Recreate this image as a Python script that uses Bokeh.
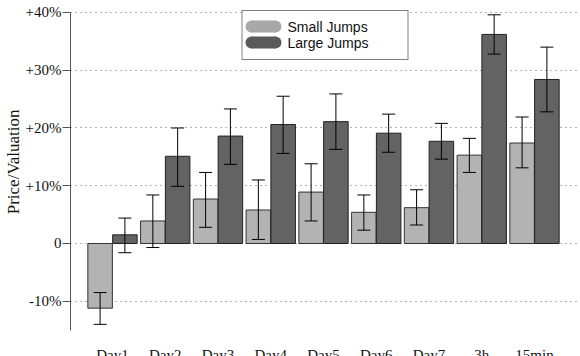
from bokeh.plotting import figure
from bokeh.models import (ColumnDataSource, Range1d, FixedTicker, Whisker, TeeHead,
                          Legend, LegendItem)
from bokeh.core.properties import value
from bokeh.embed import file_html
from bokeh.resources import INLINE

# ---------------- data ----------------
categories = ["Day1", "Day2", "Day3", "Day4", "Day5", "Day6", "Day7", "3h", "15min"]
small = [-11.2, 3.9, 7.7, 5.8, 8.9, 5.4, 6.2, 15.3, 17.4]
small_lo = [-14.0, -0.7, 2.8, 0.7, 3.9, 2.3, 3.2, 12.3, 13.1]
small_hi = [-8.5, 8.4, 12.3, 11.0, 13.8, 8.4, 9.3, 18.2, 21.9]
large = [1.5, 15.1, 18.6, 20.6, 21.1, 19.1, 17.7, 36.2, 28.4]
large_lo = [-1.6, 9.9, 13.7, 15.6, 16.3, 15.8, 14.6, 32.8, 22.8]
large_hi = [4.4, 20.0, 23.3, 25.5, 25.9, 22.4, 20.8, 39.6, 34.0]
y_ticks = [-10, 0, 10, 20, 30, 40]
y_tick_labels = ["-10%", "0", "+10%", "+20%", "+30%", "+40%"]
series_names = ["Small Jumps", "Large Jumps"]

# ---------------- layout constants ----------------
OFF = 0.235
BW = 0.465
SMALL_COLOR = "#b3b3b3"
LARGE_COLOR = "#636363"
KEY_COLORS = ["#a8a8a8", "#5a5a5a"]
NAN = float("nan")

pos = [i + 1 for i in range(len(categories))]
src = ColumnDataSource(dict(
    x=pos,
    xs=[v - OFF for v in pos],
    xl=[v + OFF for v in pos],
    cat=categories,
    small=small, small_lo=small_lo, small_hi=small_hi,
    large=large, large_lo=large_lo, large_hi=large_hi,
    ylab=[-18.0] * len(pos),
))

p = figure(width=580, height=356, output_backend="svg", toolbar_location=None,
           x_range=Range1d(0.2038, 9.872), y_range=Range1d(-19.57, 41.21),
           x_axis_location=None,
           min_border_left=70, min_border_right=0, min_border_top=5, min_border_bottom=0)
p.outline_line_color = None
p.background_fill_color = "white"
p.border_fill_color = "white"

# grid
p.xgrid.visible = False
p.ygrid.ticker = FixedTicker(ticks=y_ticks)
p.ygrid.grid_line_color = "#666666"
p.ygrid.grid_line_dash = "1 4"
p.ygrid.grid_line_width = 1

# y axis
yax = p.yaxis[0]
yax.ticker = FixedTicker(ticks=y_ticks)
yax.major_label_overrides = {t: l for t, l in zip(y_ticks, y_tick_labels)}
yax.bounds = (-15, 40)
yax.axis_line_color = "#555555"
yax.major_tick_line_color = "#555555"
yax.major_tick_out = 8
yax.major_tick_in = 0
yax.minor_tick_line_color = None
yax.major_label_standoff = 1
yax.major_label_text_font = "Liberation Serif"
yax.major_label_text_font_size = "15px"
yax.major_label_text_color = "#111111"
# leading no-break spaces shift the centred title up to where the reference has it
yax.axis_label = "\u00a0" * 9 + "Price/Valuation"
yax.axis_label_text_font = "Liberation Serif"
yax.axis_label_text_font_size = "17px"
yax.axis_label_text_font_style = "normal"
yax.axis_label_text_color = "#111111"
yax.axis_label_standoff = 0

# bars
p.vbar(x="xs", top="small", bottom=0, width=BW, source=src,
       fill_color=SMALL_COLOR, line_color="#333333", line_width=1)
p.vbar(x="xl", top="large", bottom=0, width=BW, source=src,
       fill_color=LARGE_COLOR, line_color="#222222", line_width=1)

# error bars
for base, lo, hi in (("xs", "small_lo", "small_hi"), ("xl", "large_lo", "large_hi")):
    w = Whisker(source=src, base=base, lower=lo, upper=hi, line_color="black",
                line_width=1, level="overlay",
                upper_head=TeeHead(size=13, line_color="black", line_width=1),
                lower_head=TeeHead(size=13, line_color="black", line_width=1))
    p.add_layout(w)

# category labels
p.text(x="x", y="ylab", text="cat", source=src, text_align="center",
       text_baseline="top", text_font=value("Liberation Serif"),
       text_font_size="15px", text_color="#111111")

# legend: white backing + pill-shaped keys drawn in the plot, Bokeh's Legend
# (transparent background, invisible keys) supplies the border and the labels
p.rect(x=[5.0379], y=[36.19], width=167, height=48, width_units="screen",
       height_units="screen", fill_color="white", line_color=None)
key_y = [37.576, 34.805]
key_xc, key_x0, key_x1 = 3.8626, 3.635, 4.090
for ky, kc in zip(key_y, KEY_COLORS):
    p.rect(x=[key_xc], y=[ky], width=24, height=12, width_units="screen",
           height_units="screen", fill_color=kc, line_color=None)
    p.scatter(x=[key_x0, key_x1], y=[ky, ky], size=12, marker="circle",
              fill_color=kc, line_color=None)

dummies = [p.line(x=[NAN, NAN], y=[NAN, NAN], line_alpha=0) for _ in series_names]
legend = Legend(items=[LegendItem(label=n, renderers=[r]) for n, r in zip(series_names, dummies)],
                location="top_center", margin=5, padding=8, spacing=0,
                glyph_width=26, glyph_height=16, label_height=16, label_width=112,
                label_standoff=11,
                label_text_font="Liberation Sans", label_text_font_size="14px",
                label_text_color="#111111",
                border_line_color="black", border_line_width=1,
                background_fill_alpha=0)
p.add_layout(legend)

open("out.html", "w").write(file_html(p, INLINE))
